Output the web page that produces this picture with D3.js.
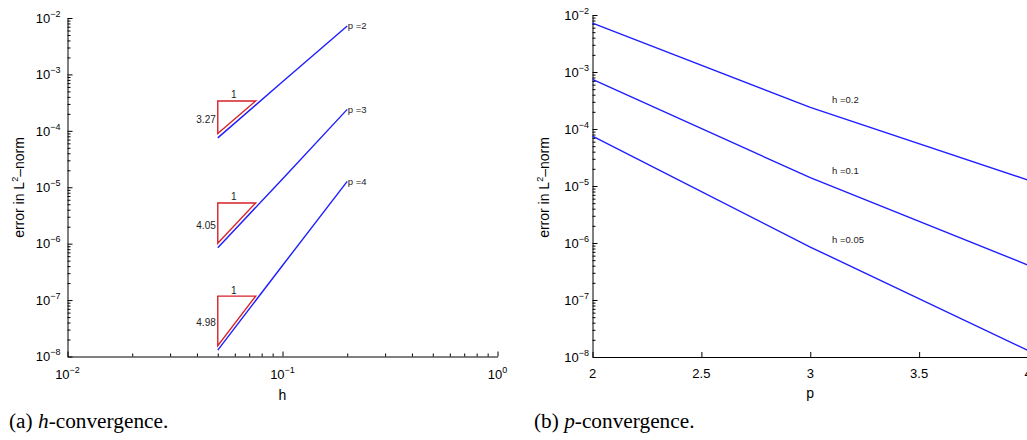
<!DOCTYPE html>
<html>
<head>
<meta charset="utf-8">
<script src="https://cdn.jsdelivr.net/npm/d3@7"></script>
<style>
  body { margin: 0; background: #fff; }
  svg { display: block; }
  .tick line { stroke: #000; }
  .domain { stroke: #000; }
</style>
</head>
<body>
<svg id="chart" width="1027" height="440"></svg>
<script>
// mesh sizes and polynomial degrees
var hValues = [0.05, 0.1, 0.2];
var pValues = [2, 3, 4];
// L2 error for each degree, one value per h (same order as hValues)
var errP2 = [7.5e-5, 7.4e-4, 7.2e-3];
var errP3 = [8.5e-7, 1.4e-5, 2.4e-4];
var errP4 = [1.3e-8, 4.1e-7, 1.27e-5];
var rates = [3.27, 4.05, 4.98];
var pLabels = ["p =2", "p =3", "p =4"];
var hLabels = ["h =0.2", "h =0.1", "h =0.05"];
// axis ticks
var errExps = [-8, -7, -6, -5, -4, -3, -2];
var hExps = [-2, -1, 0];
var pTicks = [2, 2.5, 3, 3.5, 4];
var captionA = ["(a) ", "h", "-convergence."];
var captionB = ["(b) ", "p", "-convergence."];

var errByP = [errP2, errP3, errP4];
var svg = d3.select("#chart");
var sans = "'Liberation Sans', Arial, sans-serif";
var blue = "#1e1eff", red = "#d8202a";

function minorTicks(exps) {
    var out = [];
    for (var i = 0; i < exps.length - 1; i++) {
        for (var k = 2; k <= 9; k++) out.push(k * Math.pow(10, exps[i]));
    }
    return out;
}

// "10" with a raised exponent
function powLabel(sel, e) {
    sel.append("tspan").text("10");
    sel.append("tspan").attr("dy", -6).attr("font-size", 9).text("\u2212" + Math.abs(e));
}

function yAxisLog(g, y, labelRight) {
    var maj = errExps.map(e => Math.pow(10, e));
    g.call(d3.axisLeft(y).tickValues(maj).tickSize(-5).tickSizeOuter(0).tickFormat(""));
    g.append("g").call(d3.axisLeft(y).tickValues(minorTicks(errExps)).tickSize(-3).tickFormat(""))
        .select(".domain").remove();
    errExps.forEach(e => {
        var t = g.append("text")
            .attr("x", -labelRight)
            .attr("y", y(Math.pow(10, e)) + 4.7)
            .attr("text-anchor", "end")
            .attr("font-family", sans).attr("font-size", 13).attr("fill", "#000");
        powLabel(t, e);
    });
}

function yTitle(x, yc) {
    var t = svg.append("text")
        .attr("transform", `translate(${x},${yc}) rotate(-90)`)
        .attr("text-anchor", "middle")
        .attr("font-family", sans).attr("font-size", 14).attr("fill", "#000");
    t.append("tspan").text("error in L");
    t.append("tspan").attr("dy", -6).attr("font-size", 9).text("2");
    t.append("tspan").attr("dy", 6).text("\u2013norm");
}

function caption(x, parts) {
    var t = svg.append("text").attr("x", x).attr("y", 428)
        .attr("font-family", "'Liberation Serif', 'Times New Roman', serif")
        .attr("font-size", 21.3).attr("fill", "#000");
    t.append("tspan").text(parts[0]);
    t.append("tspan").attr("font-style", "italic").text(parts[1]);
    t.append("tspan").text(parts[2]);
}

// ---------- (a) h-convergence ----------
var xA = d3.scaleLog().domain([1e-2, 1]).range([67.5, 497.5]);
var yA = d3.scaleLog().domain([1e-8, 1e-2]).range([356.5, 18]);

var gA = svg.append("g");
var axA = gA.append("g").attr("transform", `translate(${xA.range()[0]},0)`);
yAxisLog(axA, yA, 7);

var bxA = gA.append("g").attr("transform", `translate(0,${yA.range()[0]})`);
bxA.call(d3.axisBottom(xA).tickValues(hExps.map(e => Math.pow(10, e))).tickSize(-5).tickSizeOuter(0).tickFormat(""));
bxA.append("g").call(d3.axisBottom(xA).tickValues(minorTicks(hExps)).tickSize(-3).tickFormat(""))
    .select(".domain").remove();
hExps.forEach(e => {
    var t = bxA.append("text")
        .attr("x", xA(Math.pow(10, e)))
        .attr("y", 22.5)
        .attr("text-anchor", "middle")
        .attr("font-family", sans).attr("font-size", 13).attr("fill", "#000");
    t.append("tspan").text("10");
    t.append("tspan").attr("dy", -6).attr("font-size", 9).text(e === 0 ? "0" : "\u2212" + Math.abs(e));
});

gA.append("text").attr("x", xA(0.1)).attr("y", 399.5).attr("text-anchor", "middle")
    .attr("font-family", sans).attr("font-size", 14).text("h");
yTitle(24, 187.5);

var lineA = d3.line().x(d => xA(d[0])).y(d => yA(d[1]));
errByP.forEach((errs, i) => {
    var pts = hValues.map((h, j) => [h, errs[j]]);
    gA.append("path").attr("d", lineA(pts))
        .attr("fill", "none").attr("stroke", blue).attr("stroke-width", 1.4);
    var last = pts[pts.length - 1];
    gA.append("text").attr("x", xA(last[0]) + 0.5).attr("y", yA(last[1]) + 3.3)
        .attr("font-family", sans).attr("font-size", 9.5).attr("fill", "#222")
        .text(pLabels[i]);

    // slope triangle just above the line at the finest mesh
    var h0 = hValues[0], h1 = hValues[0] * 1.5;
    var e0 = errs[0] * 1.2, e1 = e0 * Math.pow(1.5, rates[i]);
    gA.append("path")
        .attr("d", d3.line()([[xA(h0), yA(e0)], [xA(h0), yA(e1)], [xA(h1), yA(e1)], [xA(h0), yA(e0)]]) + "Z")
        .attr("fill", "none").attr("stroke", red).attr("stroke-width", 1.4);
    gA.append("text").attr("x", (xA(h0) + xA(h1)) / 2 - 3).attr("y", yA(e1) - 2.5)
        .attr("text-anchor", "middle").attr("font-family", sans).attr("font-size", 10).attr("fill", "#222")
        .text("1");
    gA.append("text").attr("x", xA(h0) - 2).attr("y", (yA(e0) + yA(e1)) / 2 + 5.5)
        .attr("text-anchor", "end").attr("font-family", sans).attr("font-size", 10).attr("fill", "#222")
        .text(rates[i].toFixed(2));
});

// ---------- (b) p-convergence ----------
var xB = d3.scaleLinear().domain([2, 4]).range([592.5, 1028]);
var yB = d3.scaleLog().domain([1e-8, 1e-2]).range([357, 15]);

var gB = svg.append("g");
var axB = gB.append("g").attr("transform", `translate(${xB.range()[0]},0)`);
yAxisLog(axB, yB, 3.5);

var bxB = gB.append("g").attr("transform", `translate(0,${yB.range()[0]})`);
bxB.call(d3.axisBottom(xB).tickValues(pTicks).tickSize(-5).tickSizeOuter(0).tickFormat(""));
pTicks.forEach(p => {
    bxB.append("text").attr("x", xB(p)).attr("y", 20.5)
        .attr("text-anchor", "middle")
        .attr("font-family", sans).attr("font-size", 13).attr("fill", "#000")
        .text(d3.format("")(p));
});

gB.append("text").attr("x", xB(3)).attr("y", 398).attr("text-anchor", "middle")
    .attr("font-family", sans).attr("font-size", 14).text("p");
yTitle(549, 187.5);

var lineB = d3.line().x(d => xB(d[0])).y(d => yB(d[1]));
// coarsest mesh first
hValues.slice().reverse().forEach((h, k) => {
    var j = hValues.indexOf(h);
    var pts = pValues.map((p, i) => [p, errByP[i][j]]);
    gB.append("path").attr("d", lineB(pts))
        .attr("fill", "none").attr("stroke", blue).attr("stroke-width", 1.4);
    gB.append("text").attr("x", xB(3.1)).attr("y", yB(pts[1][1]) - 4)
        .attr("font-family", sans).attr("font-size", 9.5).attr("fill", "#222")
        .text(hLabels[k]);
});

caption(9, captionA);
caption(534, captionB);
</script>
</body>
</html>
